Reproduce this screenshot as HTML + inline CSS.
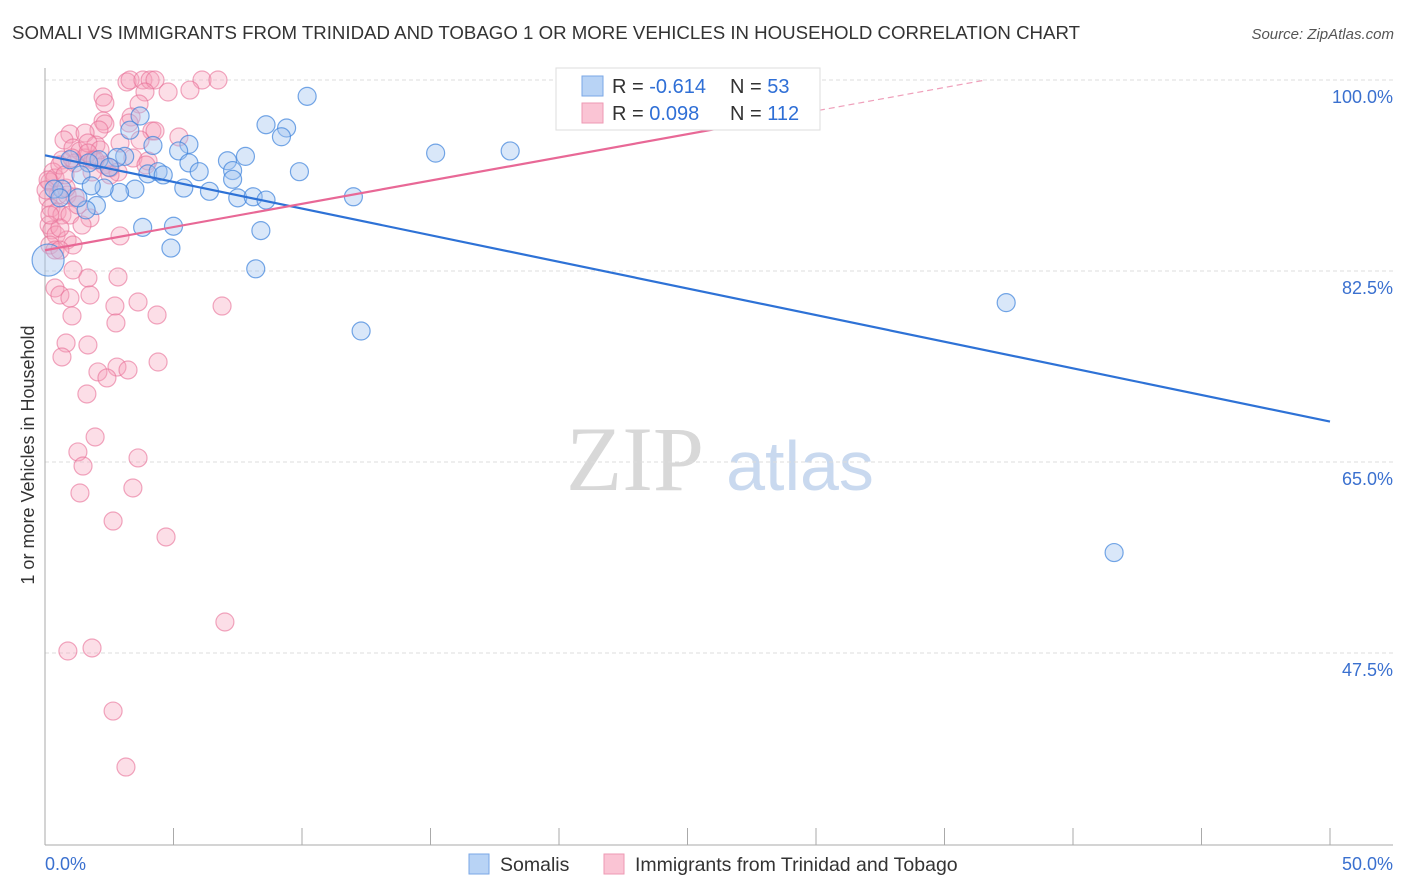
<!DOCTYPE html>
<html><head><meta charset="utf-8">
<style>
body{margin:0;background:#fff;font-family:"Liberation Sans",sans-serif;}
svg{display:block}
</style></head>
<body>
<svg id="chart" width="1406" height="892" xmlns="http://www.w3.org/2000/svg" font-family="Liberation Sans, sans-serif">
<text x="12" y="39" font-size="18.6" fill="#333" textLength="1068" lengthAdjust="spacingAndGlyphs">SOMALI VS IMMIGRANTS FROM TRINIDAD AND TOBAGO 1 OR MORE VEHICLES IN HOUSEHOLD CORRELATION CHART</text>
<text x="1394" y="39" font-size="15" fill="#555" text-anchor="end" font-style="italic">Source: ZipAtlas.com</text>
<g>
<text x="635" y="490" font-size="92" fill="#d8d8d8" text-anchor="middle" font-family="Liberation Serif, serif">ZIP</text>
<text x="800" y="490" font-size="70" fill="#c9d9ef" text-anchor="middle">atlas</text>
</g>
<g id="grid"></g>
<g id="axes"></g>
<g id="pink"></g>
<g id="blue"></g>
<g id="lines"></g>
<text transform="translate(34,455) rotate(-90)" font-size="18" fill="#333" text-anchor="middle">1 or more Vehicles in Household</text>
<g>
<rect x="556" y="68" width="264" height="62" fill="#fff" stroke="#ddd"/>
<rect x="582" y="76" width="21" height="20" fill="#b8d3f5" stroke="#7aa7e6"/>
<rect x="582" y="103" width="21" height="20" fill="#fac4d4" stroke="#ee99b3"/>
<text x="612" y="93" font-size="20" fill="#333">R = <tspan fill="#2f6fd6">-0.614</tspan></text>
<text x="730" y="93" font-size="20" fill="#333">N = <tspan fill="#2f6fd6"> 53</tspan></text>
<text x="612" y="120" font-size="20" fill="#333">R = <tspan fill="#2f6fd6"> 0.098</tspan></text>
<text x="730" y="120" font-size="20" fill="#333">N = <tspan fill="#2f6fd6">112</tspan></text>
</g>
<g>
<rect x="469" y="854" width="20" height="20" fill="#b8d3f5" stroke="#7aa7e6"/>
<text x="500" y="871" font-size="19.5" fill="#333">Somalis</text>
<rect x="604" y="854" width="20" height="20" fill="#fac4d4" stroke="#ee99b3"/>
<text x="635" y="871" font-size="19.5" fill="#333">Immigrants from Trinidad and Tobago</text>
</g>
</svg>
<script>
const blueX=[10.2,8.6,9.4,9.2,3.7,3.3,5.6,4.2,5.2,7.8,7.1,15.2,18.1,3.1,2.8,2.1,0.97,1.7,5.6,6.0,7.3,4.0,4.4,4.6,2.5,1.4,7.3,9.9,5.4,6.4,0.66,0.35,3.5,2.9,2.3,1.8,7.5,8.1,8.6,12.0,2.0,1.6,3.8,5.0,4.9,8.4,8.2,0.12,12.3,37.4,41.6,0.58,1.28];
const blueY=[98.5,95.9,95.6,94.8,96.7,95.4,94.1,94.0,93.5,93.0,92.6,93.3,93.5,93.0,92.9,92.7,92.7,92.4,92.4,91.6,91.7,91.4,91.6,91.3,92.0,91.3,90.9,91.6,90.1,89.8,90.0,90.0,90.0,89.7,90.1,90.3,89.2,89.3,89.0,89.3,88.5,88.1,86.5,86.6,84.6,86.2,82.7,83.5,77.0,79.6,56.7,89.2,89.2];
const blueR=[9,9,9,9,9,9,9,9,9,9,9,9,9,9,9,9,9,9,9,9,9,9,9,9,9,9,9,9,9,9,9,9,9,9,9,9,9,9,9,9,9,9,9,9,9,9,9,16,9,9,9,9,9];
const pinkPx=[[127,82],[130,80],[143,80],[150,80],[155,80],[202,80],[218,80],[190,90],[168,92],[145,92],[103,97],[105,103],[139,104],[131,117],[129,123],[103,121],[105,124],[99,130],[152,131],[155,131],[179,137],[70,134],[64,140],[85,133],[96,145],[73,148],[62,160],[80,151],[85,158],[93,160],[133,158],[148,161],[146,165],[75,163],[104,165],[110,168],[118,172],[53,172],[50,182],[55,178],[58,195],[67,195],[75,197],[48,198],[51,208],[57,212],[62,215],[70,215],[90,218],[49,225],[52,230],[56,235],[67,240],[60,228],[73,245],[50,245],[55,250],[120,236],[73,270],[88,278],[118,277],[55,288],[60,295],[70,298],[90,295],[115,306],[138,302],[222,306],[157,315],[72,316],[116,323],[88,345],[66,343],[62,357],[158,362],[117,367],[98,372],[128,370],[107,378],[87,394],[95,437],[78,452],[83,466],[138,458],[80,493],[133,488],[113,521],[166,537],[225,622],[68,651],[92,648],[113,711],[126,767],[48,180],[46,190],[60,165],[88,143],[100,150],[120,143],[88,153],[95,160],[770,80],[66,188],[78,205],[60,250],[82,225],[92,172],[110,175],[65,175],[140,140],[72,158],[50,215]];
const pinkX=pinkPx.map(p=>+((p[0]-45)/25.7).toFixed(2));
const pinkY=pinkPx.map(p=>+(100-(p[1]-80)/10.914).toFixed(2));
const yTicks=[100,82.5,65,47.5];
const yTickLabels=["100.0%","82.5%","65.0%","47.5%"];
const xTicks=[0,5,10,15,20,25,30,35,40,45,50];
const blueTrend=[[0,93.1],[50,68.7]];
const pinkTrend=[[0,84.4],[28.2,96.4],[36.6,100]];

const X=v=>45+v*25.7, Y=v=>80+(100-v)*10.914;
const NS="http://www.w3.org/2000/svg";
function mk(tag,attrs,parent){const e=document.createElementNS(NS,tag);for(const k in attrs)e.setAttribute(k,attrs[k]);parent.appendChild(e);return e;}
const grid=document.getElementById('grid'),axes=document.getElementById('axes');
yTicks.forEach((t,i)=>{
 const l=mk('line',{x1:45,x2:1393,y1:Y(t),y2:Y(t),stroke:'#ddd','stroke-dasharray':'4,3'},grid);
 
 
 const tx=mk('text',{x:1393,y:Y(t)+23,'font-size':18,fill:'#3a70cf','text-anchor':'end'},axes);
 tx.textContent=yTickLabels[i];
 
 
});
const ax=mk('line',{x1:45,x2:1393,y1:845,y2:845,stroke:'#aaa'},axes);


const ay=mk('line',{x1:45,x2:45,y1:68,y2:845,stroke:'#aaa'},axes);


xTicks.forEach(t=>{
 const l=mk('line',{x1:X(t),x2:X(t),y1:828,y2:845,stroke:'#aaa'},axes);
 
 
});
const x0=mk('text',{x:45,y:870,'font-size':18,fill:'#3a70cf'},axes);x0.textContent='0.0%';


const x1=mk('text',{x:1393,y:870,'font-size':18,fill:'#3a70cf','text-anchor':'end'},axes);x1.textContent='50.0%';



const pg=document.getElementById('pink');
pinkX.forEach((v,i)=>{
 const c=mk('circle',{cx:X(v),cy:Y(pinkY[i]),r:9,fill:'rgba(246,160,186,0.35)',stroke:'rgba(232,110,150,0.6)','stroke-width':1.2},pg);
 
 
});
const bg=document.getElementById('blue');
blueX.forEach((v,i)=>{
 const c=mk('circle',{cx:X(v),cy:Y(blueY[i]),r:blueR[i],fill:'rgba(160,196,240,0.4)',stroke:'rgba(60,130,220,0.7)','stroke-width':1.2},bg);
 
 
});
const lg=document.getElementById('lines');
const bl=mk('line',{x1:X(blueTrend[0][0]),y1:Y(blueTrend[0][1]),x2:X(blueTrend[1][0]),y2:Y(blueTrend[1][1]),stroke:'#2e72d6','stroke-width':2.2},lg);


const pl=mk('line',{x1:X(pinkTrend[0][0]),y1:Y(pinkTrend[0][1]),x2:X(pinkTrend[1][0]),y2:Y(pinkTrend[1][1]),stroke:'#e86896','stroke-width':2.2},lg);


const pd=mk('line',{x1:X(pinkTrend[1][0]),y1:Y(pinkTrend[1][1]),x2:X(pinkTrend[2][0]),y2:Y(pinkTrend[2][1]),stroke:'#efa0bb','stroke-width':1.2,'stroke-dasharray':'6,4'},lg);


</script>
</body></html>
